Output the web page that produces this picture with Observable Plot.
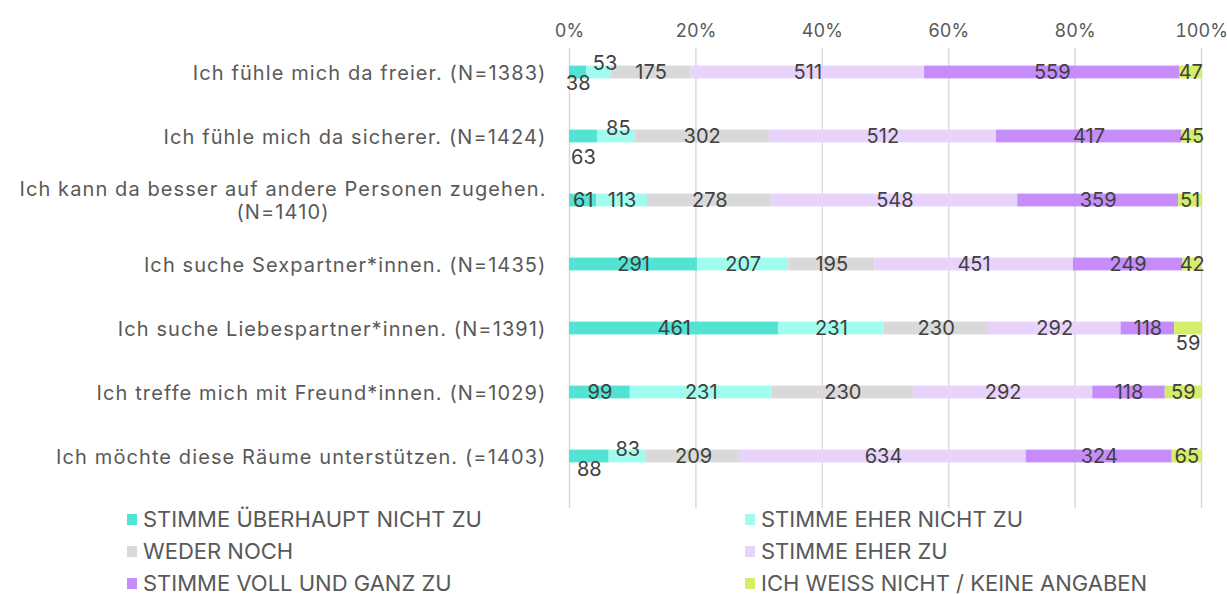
<!DOCTYPE html>
<html><head><meta charset="utf-8">
<script src="https://cdn.jsdelivr.net/npm/d3@7"></script>
<script src="https://cdn.jsdelivr.net/npm/@observablehq/plot@0.6"></script>
<style>
body{margin:0;background:#fff;font-family:Inter,"Noto Sans",sans-serif;}
#wrap{position:relative;width:1227px;height:594px}
#legend{position:absolute;top:508px;left:0;width:1227px;height:86px}
.li{position:absolute;display:flex;align-items:center;font-size:22px;line-height:22px;color:#595959;height:22px;white-space:nowrap}
.sw{width:10px;height:11px;margin-right:6px;flex:none}
</style></head><body><div id="wrap"><div id="chart"></div><div id="legend"></div></div>
<script>
const categories = [
  "Ich fühle mich da freier. (N=1383)",
  "Ich fühle mich da sicherer. (N=1424)",
  "Ich kann da besser auf andere Personen zugehen.\n(N=1410)",
  "Ich suche Sexpartner*innen. (N=1435)",
  "Ich suche Liebespartner*innen. (N=1391)",
  "Ich treffe mich mit Freund*innen. (N=1029)",
  "Ich möchte diese Räume unterstützen. (=1403)"
];
const seriesNames = [
  "STIMME ÜBERHAUPT NICHT ZU",
  "STIMME EHER NICHT ZU",
  "WEDER NOCH",
  "STIMME EHER ZU",
  "STIMME VOLL UND GANZ ZU",
  "ICH WEISS NICHT / KEINE ANGABEN"
];
const ueberhauptNicht = [38, 63, 61, 291, 461, 99, 88];
const eherNicht       = [53, 85, 113, 207, 231, 231, 83];
const wederNoch       = [175, 302, 278, 195, 230, 230, 209];
const eherZu          = [511, 512, 548, 451, 292, 292, 634];
const vollUndGanz     = [559, 417, 359, 249, 118, 118, 324];
const weissNicht      = [47, 45, 51, 42, 59, 59, 65];
const xTicks = [0, 0.2, 0.4, 0.6, 0.8, 1];

const colors = ["#52e3d4", "#a1fcf0", "#d9d9d9", "#e8d3fc", "#c58cfa", "#d4ee6a"];

// label nudges (style only): key "row|seriesIndex" -> [dx, dy]
const nudges = {
  "0|0": [0, 11], "0|1": [6, -9],
  "1|0": [0, 21], "1|1": [2, -8],
  "4|5": [0, 15],
  "6|0": [0, 13], "6|1": [0, -7]
};

const seriesValues = [ueberhauptNicht, eherNicht, wederNoch, eherZu, vollUndGanz, weissNicht];
const data = [];
seriesValues.forEach((vals, si) => {
  vals.forEach((v, ri) => {
    data.push({category: categories[ri], series: seriesNames[si], value: v, key: ri + "|" + si});
  });
});

const stackOpts = {offset: "normalize", x: "value", y: "category", z: "series"};

const labelMarks = [
  Plot.text(data, Plot.stackX({...stackOpts, text: d => nudges[d.key] ? "" : String(d.value),
    fill: "#404040", fontSize: 20}))
];
for (const [k, [dx, dy]] of Object.entries(nudges)) {
  labelMarks.push(Plot.text(data, Plot.stackX({...stackOpts, text: d => d.key === k ? String(d.value) : "",
    fill: "#404040", fontSize: 20, dx, dy})));
}

const chart = Plot.plot({
  width: 1227,
  height: 508,
  marginLeft: 569,
  marginRight: 26,
  marginTop: 48,
  marginBottom: 0,
  style: {fontFamily: "Inter, 'Noto Sans', sans-serif", color: "#595959", background: "#fff"},
  x: {domain: [0, 1]},
  y: {domain: categories, range: [37.6, 491.4], padding: 0},
  color: {domain: seriesNames, range: colors},
  marks: [
    Plot.gridX(xTicks, {stroke: "#d9d9d9", strokeOpacity: 1, strokeWidth: 1.5}),
    Plot.barX(data, Plot.stackX({...stackOpts, fill: "series", insetTop: 25.6, insetBottom: 25.6})),
    ...labelMarks,
    Plot.axisX({anchor: "top", ticks: xTicks, tickFormat: d3.format(".0%"), tickSize: 0, tickPadding: 12, fontSize: 18, label: null}),
    Plot.axisY({anchor: "left", tickSize: 0, tickPadding: 23, fontSize: 20, label: null, lineHeight: 1.15})
  ]
});
document.getElementById("chart").append(chart);

// slightly wider tracking for category labels; centre second line of wrapped label
const yg = chart.querySelector('g[aria-label="y-axis tick label"]');
if (yg) {
  yg.style.letterSpacing = "1.1px";
  yg.querySelectorAll("text").forEach(t => {
    const spans = t.querySelectorAll("tspan");
    if (spans.length > 1) {
      const w = t.getBBox().width;
      t.setAttribute("text-anchor", "middle");
      spans.forEach(s => s.setAttribute("x", -w / 2));
    }
  });
}

// legend
const legend = document.getElementById("legend");
const pos = [[127, 0], [745, 0], [127, 32], [745, 32], [127, 64], [745, 64]];
seriesNames.forEach((name, i) => {
  const item = document.createElement("div");
  item.className = "li";
  item.style.left = pos[i][0] + "px";
  item.style.top = pos[i][1] + "px";
  const sw = document.createElement("span");
  sw.className = "sw";
  sw.style.background = colors[i];
  const tx = document.createElement("span");
  tx.textContent = name;
  item.append(sw, tx);
  legend.append(item);
});
</script></body></html>
